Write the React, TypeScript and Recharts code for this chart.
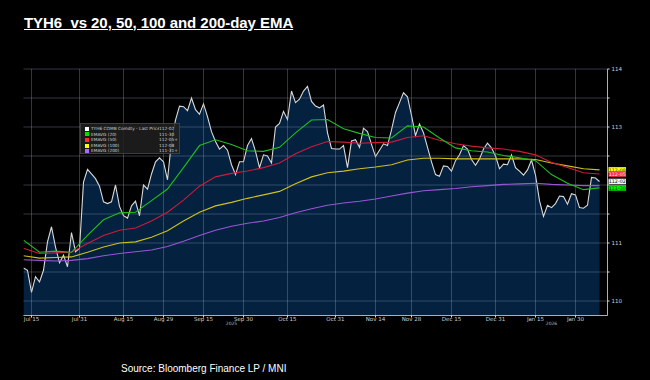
import React from 'react';
import { ComposedChart, Area, Line, XAxis, YAxis, CartesianGrid, LabelList } from 'recharts';

// Daily last price (trading-day index 0..144, Jul 11 -> early Feb)
const priceValues: number[] = [
  110.57, 110.53, 110.15, 110.42, 110.33, 110.53, 111.02, 111.28, 110.93, 110.66,
  110.79, 110.59, 111.18, 110.85, 110.91, 112.05, 112.27, 112.19, 112.11, 111.98,
  111.71, 111.68, 111.71, 112.0, 111.63, 111.47, 111.43, 111.64, 111.72, 111.47,
  112.0, 111.93, 112.19, 112.4, 112.47, 112.4, 112.09, 112.75, 113.12, 113.36,
  113.35, 113.28, 113.5, 113.3, 113.22, 113.4, 113.18, 112.92, 112.75, 112.62,
  112.68, 112.6, 112.35, 112.18, 112.4, 112.4, 112.68, 112.8, 112.58, 112.3,
  112.52, 112.5, 112.38, 113.0, 113.06, 113.27, 113.13, 113.62, 113.42, 113.48,
  113.62, 113.7, 113.44, 113.36, 113.33, 113.38, 112.9, 112.63, 112.62, 112.62,
  112.68, 112.3, 112.76, 112.78, 112.65, 112.98, 112.92, 112.7, 112.49, 112.6,
  112.71, 112.68, 112.95, 113.25, 113.42, 113.59, 113.52, 113.2, 112.85, 113.05,
  112.9, 112.65, 112.4, 112.18, 112.15, 112.33, 112.32, 112.24, 112.42, 112.52,
  112.68, 112.62, 112.44, 112.34, 112.45, 112.62, 112.72, 112.64, 112.5, 112.28,
  112.36, 112.35, 112.52, 112.3, 112.24, 112.17, 112.26, 112.43, 112.17, 111.73,
  111.46, 111.65, 111.61, 111.68, 111.81, 111.8, 111.67, 111.85, 111.83, 111.61,
  111.6, 111.65, 112.13, 112.12, 112.06,
];

// EMA readings every 4th trading day
const emaStep = 4;
const ema20: number[] = [
  111.05, 110.84, 110.86, 110.84, 111.13, 111.4, 111.52, 111.53, 111.73, 111.93,
  112.3, 112.68, 112.78, 112.7, 112.59, 112.58, 112.65, 112.9, 113.12, 113.13,
  112.97, 112.89, 112.82, 112.81, 113.02, 113.0, 112.81, 112.64, 112.59, 112.57,
  112.51, 112.47, 112.42, 112.18, 112.03, 111.92, 111.95,
];
const ema50: number[] = [
  110.91, 110.82, 110.83, 110.84, 110.99, 111.13, 111.22, 111.26, 111.38, 111.53,
  111.74, 111.98, 112.14, 112.2, 112.24, 112.3, 112.38, 112.54, 112.66, 112.75,
  112.74, 112.72, 112.73, 112.74, 112.82, 112.85, 112.77, 112.71, 112.67, 112.64,
  112.62, 112.58, 112.52, 112.39, 112.3, 112.21, 112.19,
];
const ema100: number[] = [
  110.78, 110.74, 110.75, 110.76, 110.84, 110.93, 111.0, 111.02, 111.1, 111.21,
  111.38, 111.53, 111.64, 111.7, 111.77, 111.83, 111.89, 112.02, 112.14, 112.21,
  112.24, 112.28, 112.31, 112.35, 112.43, 112.46, 112.46, 112.45, 112.45, 112.45,
  112.45, 112.45, 112.44, 112.38, 112.33, 112.28, 112.26,
];
const ema200: number[] = [
  110.71, 110.7, 110.69, 110.7, 110.73, 110.78, 110.82, 110.85, 110.88, 110.94,
  111.03, 111.13, 111.22, 111.29, 111.34, 111.38, 111.44, 111.52, 111.59, 111.65,
  111.69, 111.72, 111.76, 111.81, 111.86, 111.9, 111.92, 111.94, 111.97, 111.99,
  112.01, 112.02, 112.03, 112.01, 112.0, 111.99, 111.99,
];

const xTickIndex = [2, 14, 25, 35, 45, 55, 66, 78, 88, 97, 107, 118, 128, 138];
const xTickLabels = ['Jul 15', 'Jul 31', 'Aug 15', 'Aug 29', 'Sep 15', 'Sep 30', 'Oct 15', 'Oct 31', 'Nov 14', 'Nov 28', 'Dec 15', 'Dec 31', 'Jan 15', 'Jan 30'];
const yearTickIndex = [52, 132];
const yearLabels = ['2025', '2026'];
const xDomain: [number, number] = [0, 146];
const yTicks = [110, 110.5, 111, 111.5, 112, 112.5, 113, 113.5, 114];
const yLabelTicks = [110, 111, 113, 114];

const legendNames = ['TYH6 COMB Comdty - Last Price', 'EMAVG (20)', 'EMAVG (50)', 'EMAVG (100)', 'EMAVG (200)'];
const legendValues = ['112-02', '111-30', '112-05+', '112-08', '111-31+'];
const legendColors = ['#ffffff', '#00e000', '#ff2a2a', '#ffff00', '#b266ff'];
const lastTags = { price: '112-02', ema20: '111-30', ema50: '112-05', ema100: '112-08' };

const data = priceValues.map((p, i) => ({
  i,
  price: p,
  ema20: i % emaStep === 0 ? ema20[i / emaStep] : null,
  ema50: i % emaStep === 0 ? ema50[i / emaStep] : null,
  ema100: i % emaStep === 0 ? ema100[i / emaStep] : null,
  ema200: i % emaStep === 0 ? ema200[i / emaStep] : null,
}));

const lastIndex = priceValues.length - 1;

const makeTag = (bg: string, fg: string, text: string) => (props: any) => {
  const { x, y, index } = props;
  if (index !== lastIndex || x == null || y == null) return null;
  const bx = Number(x) + 9;
  const by = Number(y) - 2.8;
  return (
    <g>
      <rect x={bx} y={by} width={17.5} height={5.6} fill={bg} />
      <text x={bx + 8.75} y={by + 4.5} fontSize={4.8} fill={fg} textAnchor="middle" fontFamily="'DejaVu Sans', sans-serif">
        {text}
      </text>
    </g>
  );
};

const gridProps: any = { zIndex: 150 };

const verticalGen = (props: any) => {
  const scale = props?.xAxis?.scale;
  if (typeof scale === 'function') return xTickIndex.map((t) => scale(t));
  if (scale && typeof scale.map === 'function') return xTickIndex.map((t) => scale.map(t));
  const off = props?.offset;
  if (off && typeof off.left === 'number') {
    return xTickIndex.map((t) => off.left + ((t - xDomain[0]) / (xDomain[1] - xDomain[0])) * off.width);
  }
  return [];
};

export default function App() {
  return (
    <div style={{ position: 'absolute', left: 0, top: 0, width: 650, height: 380, background: '#000', overflow: 'hidden' }}>
      <div
        style={{
          position: 'absolute', left: 24, top: 14.6, fontFamily: "'Liberation Sans', Arial, sans-serif",
          fontWeight: 700, fontSize: 15, lineHeight: '15px', color: '#fff', textDecoration: 'underline',
          letterSpacing: -0.05, whiteSpace: 'pre',
        }}
      >
        {'TYH6  vs 20, 50, 100 and 200-day EMA'}
      </div>
      <ComposedChart
        width={650}
        height={380}
        data={data}
        margin={{ top: 69, left: 23.5, right: 12.5, bottom: 50.5 }}
        style={{ position: 'absolute', left: 0, top: 0 }}
      >
        <XAxis
          dataKey="i"
          type="number"
          domain={xDomain}
          allowDataOverflow
          ticks={xTickIndex}
          tickFormatter={(v: number) => xTickLabels[xTickIndex.indexOf(v)] ?? ''}
          height={6}
          tickSize={2}
          tickMargin={0}
          axisLine={{ stroke: '#b0b0b0' }}
          tickLine={{ stroke: '#dddddd' }}
          tick={{ fontSize: 5.5, fill: '#cfcfcf', fontFamily: "'DejaVu Sans', sans-serif" }}
          interval={0}
        />
        <XAxis
          xAxisId="yr"
          dataKey="i"
          type="number"
          domain={xDomain}
          allowDataOverflow
          ticks={yearTickIndex}
          tickFormatter={(v: number) => yearLabels[yearTickIndex.indexOf(v)] ?? ''}
          height={8}
          tickSize={0}
          tickMargin={0}
          axisLine={false}
          tickLine={false}
          tick={{ fontSize: 4.5, fill: '#bbbbbb', fontFamily: "'DejaVu Sans', sans-serif" }}
          interval={0}
        />
        <YAxis
          orientation="right"
          type="number"
          domain={[109.75, 114]}
          allowDataOverflow
          ticks={yTicks}
          tickFormatter={(v: number) => (yLabelTicks.includes(v) ? String(v) : '')}
          width={30}
          tickSize={2}
          tickMargin={2}
          axisLine={{ stroke: '#b0b0b0' }}
          tickLine={{ stroke: '#dddddd' }}
          tick={{ fontSize: 5.5, fill: '#cfcfcf', fontFamily: "'DejaVu Sans', sans-serif" }}
          interval={0}
        />
        <Area
          dataKey="price"
          type="linear"
          stroke="#d9d9d9"
          strokeWidth={1.1}
          fill="#04213f"
          fillOpacity={1}
          isAnimationActive={false}
          dot={false}
          activeDot={false}
        >
          <LabelList dataKey="price" content={makeTag('#f2f2f2', '#111', lastTags.price)} />
        </Area>
        <CartesianGrid
          stroke="rgba(150,170,200,0.32)"
          strokeWidth={1}
          verticalCoordinatesGenerator={verticalGen}
          {...gridProps}
        />
        <Line dataKey="ema200" type="linear" stroke="#9a55d6" strokeWidth={1.1} dot={false} activeDot={false} connectNulls isAnimationActive={false} />
        <Line dataKey="ema100" type="linear" stroke="#cfc11a" strokeWidth={1.1} dot={false} activeDot={false} connectNulls isAnimationActive={false}>
          <LabelList dataKey="ema100" content={makeTag('#ffff00', '#333', lastTags.ema100)} />
        </Line>
        <Line dataKey="ema50" type="linear" stroke="#cc1d3a" strokeWidth={1.1} dot={false} activeDot={false} connectNulls isAnimationActive={false}>
          <LabelList dataKey="ema50" content={makeTag('#ff3050', '#ffe0e0', lastTags.ema50)} />
        </Line>
        <Line dataKey="ema20" type="linear" stroke="#1fbf1f" strokeWidth={1.1} dot={false} activeDot={false} connectNulls isAnimationActive={false}>
          <LabelList dataKey="ema20" content={makeTag('#00ee00', '#113311', lastTags.ema20)} />
        </Line>
      </ComposedChart>
      <div
        style={{
          position: 'absolute', left: 80, top: 123, width: 100, height: 31, boxSizing: 'border-box',
          background: 'rgba(32,32,32,0.85)', border: '1px solid rgba(70,70,70,0.8)',
          padding: '2px 2px 0 4px', fontFamily: "'DejaVu Sans', sans-serif", fontSize: 4.3, color: '#d0d0d0',
        }}
      >
        {legendNames.map((n, k) => (
          <div key={n} style={{ display: 'flex', alignItems: 'center', height: 5.6, lineHeight: '5.6px' }}>
            <span style={{ width: 4, height: 4, background: legendColors[k], marginRight: 2, flex: 'none' }} />
            <span style={{ flex: 1, whiteSpace: 'nowrap', overflow: 'hidden' }}>{n}</span>
            <span style={{ width: 18, flex: 'none', whiteSpace: 'nowrap' }}>{legendValues[k]}</span>
          </div>
        ))}
      </div>
      <div
        style={{
          position: 'absolute', left: 121, top: 363.5, fontFamily: "'Liberation Sans', Arial, sans-serif",
          fontSize: 10, lineHeight: '10px', color: '#fff', whiteSpace: 'nowrap', letterSpacing: 0,
        }}
      >
        Source: Bloomberg Finance LP / MNI
      </div>
    </div>
  );
}
